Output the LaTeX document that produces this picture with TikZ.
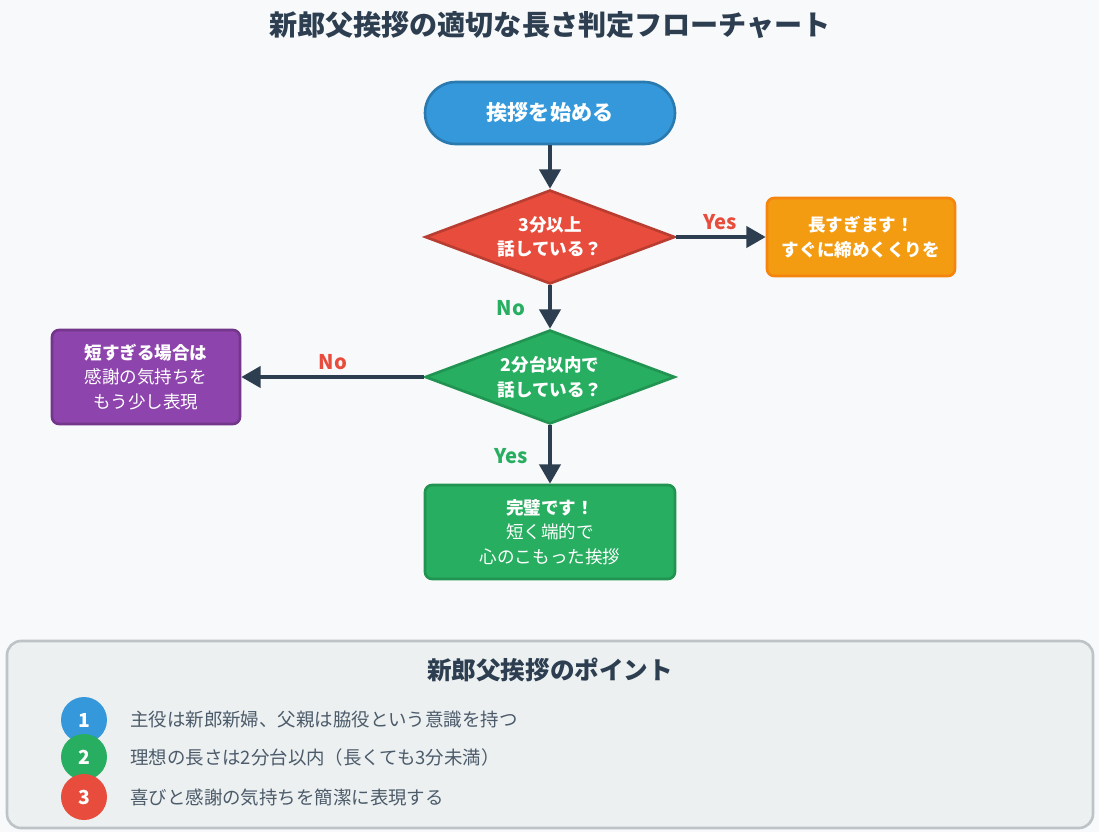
\documentclass[tikz,border=0pt]{standalone}
\usepackage{fontspec}
\setmainfont{Noto Sans CJK JP}
\usetikzlibrary{arrows.meta, positioning, shapes.geometric}

\definecolor{ink}{HTML}{2C3E50}
\definecolor{cblue}{HTML}{3498DB}
\definecolor{cred}{HTML}{E74C3C}
\definecolor{cgreen}{HTML}{27AE60}
\definecolor{corange}{HTML}{F39C12}
\definecolor{cpurple}{HTML}{8E44AD}
\definecolor{bgpage}{HTML}{F8F9FA}
\definecolor{panelfill}{HTML}{ECF0F1}
\definecolor{paneldraw}{HTML}{BDC3C7}

\begin{document}
\begin{tikzpicture}[
  x=0.02cm, y=-0.02cm,
  block/.style={draw, line width=1.5pt, rounded corners=4pt, minimum height=1.88cm, text=white, align=center, font=\fontsize{10}{14}\selectfont},
  decide/.style={diamond, draw, line width=1.5pt, aspect=2.66, minimum width=5cm, minimum height=1.88cm, inner sep=0pt, text=white, align=center, font=\fontsize{10}{14}\selectfont\bfseries},
  line/.style={-{Triangle[length=11pt, width=12pt]}, line width=2.2pt, draw=ink},
  lab/.style={font=\fontsize{11.5}{14}\selectfont\bfseries},
  num/.style={circle, minimum size=0.92cm, text=white, font=\fontsize{11}{14}\selectfont\bfseries},
  point/.style={right, text=ink!85, font=\fontsize{10.5}{13}\selectfont}
]
\fill[bgpage] (0,0) rectangle (1099,832);
\useasboundingbox (0,0) rectangle (1099,832);

\node[text=ink, font=\fontsize{16}{20}\selectfont\bfseries] (title) at (550,25) {新郎父挨拶の適切な長さ判定フローチャート};

\node[draw=cblue!80!black, fill=cblue, line width=1.5pt, rounded corners=0.62cm, minimum width=5cm, minimum height=1.24cm, text=white, font=\fontsize{12}{15}\selectfont\bfseries] (start) at (550,113) {挨拶を始める};

\node[decide, draw=cred!80!black, fill=cred] (long) at (550,237) {3分以上\\話している？};
\node[block, draw=corange!85!red, fill=corange, minimum width=3.76cm, minimum height=1.56cm, font=\fontsize{10}{14}\selectfont\bfseries] (tooLong) at (861,237) {長すぎます！\\すぐに締めくくりを};

\node[decide, draw=cgreen!85!black, fill=cgreen] (ok) at (550,377) {2分台以内で\\話している？};
\node[block, draw=cpurple!80!black, fill=cpurple, minimum width=3.76cm] (tooShort) at (146,377) {\textbf{短すぎる場合は}\\感謝の気持ちを\\もう少し表現};
\node[block, draw=cgreen!85!black, fill=cgreen, minimum width=5cm] (good) at (550,532) {\textbf{完璧です！}\\短く端的で\\心のこもった挨拶};

\draw[line] (start) -- (long);
\draw[line] (long) -- (tooLong);
\draw[line] (long) -- (ok);
\draw[line] (ok) -- (tooShort);
\draw[line] (ok) -- (good);

\node[lab, text=cred] at (720,222) {Yes};
\node[lab, text=cgreen] at (511,308) {No};
\node[lab, text=cred] at (333,362) {No};
\node[lab, text=cgreen] at (511,456) {Yes};

% points panel
\draw[draw=paneldraw, fill=panelfill, line width=1.5pt, rounded corners=8pt] (7,641) rectangle (1093,828);
\node[text=ink, font=\fontsize{14}{17}\selectfont\bfseries] (ptitle) at (550,670) {新郎父挨拶のポイント};

\node[num, fill=cblue] (n1) at (84,720) {1};
\node[num, fill=cgreen] (n2) at (84,757) {2};
\node[num, fill=cred] (n3) at (84,797) {3};
\node[point] at (124,720) {主役は新郎新婦、父親は脇役という意識を持つ};
\node[point] at (124,757) {理想の長さは2分台以内（長くても3分未満）};
\node[point] at (124,797) {喜びと感謝の気持ちを簡潔に表現する};
\end{tikzpicture}
\end{document}
